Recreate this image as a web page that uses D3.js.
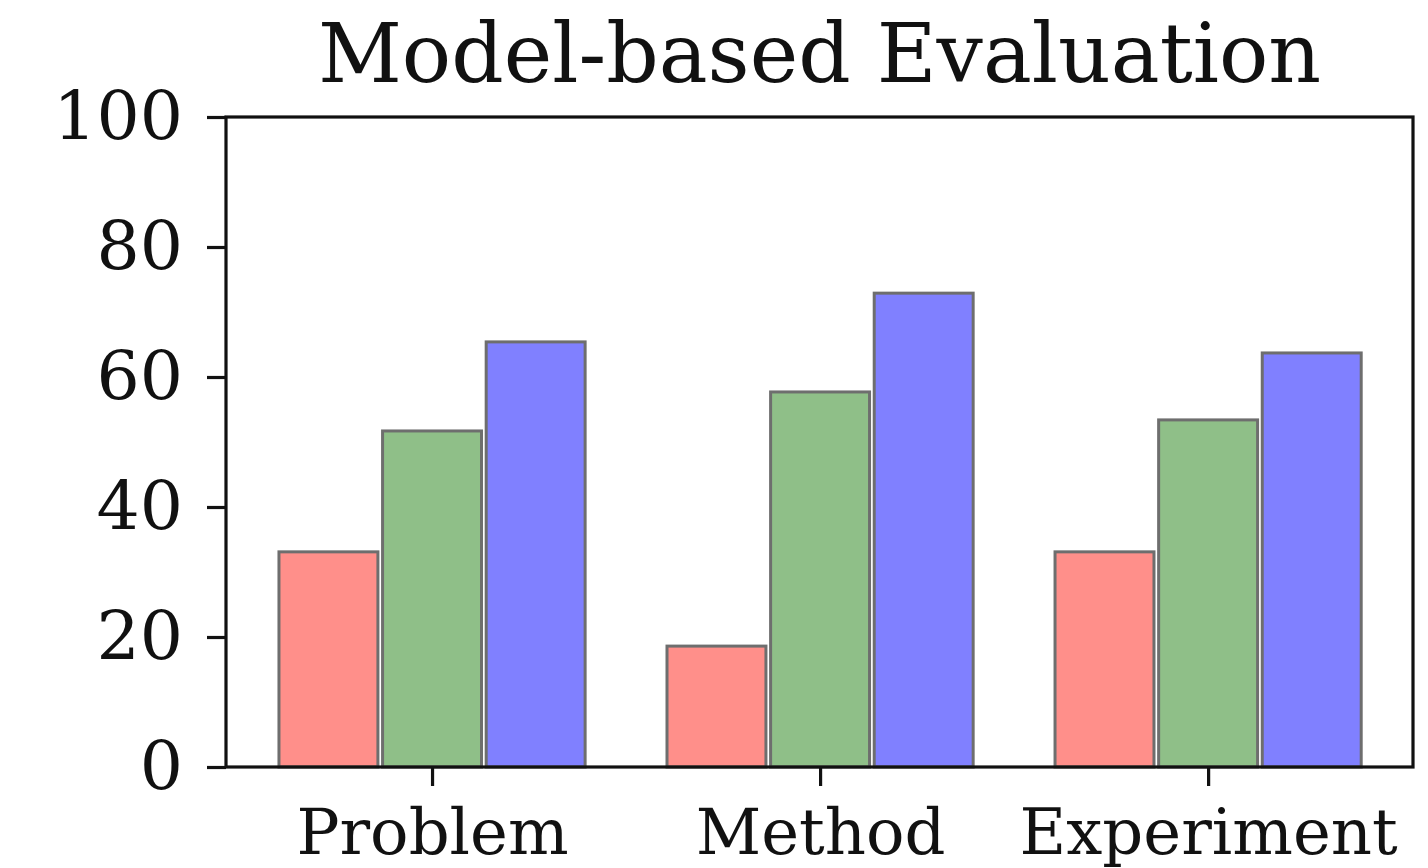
<!DOCTYPE html>
<html>
<head>
<meta charset="utf-8">
<script src="https://cdn.jsdelivr.net/npm/d3@7"></script>
<style>
  body { margin: 0; background: #fff; }
  svg { display: block; font-family: "DejaVu Serif", serif; }
</style>
</head>
<body>
<div id="chart"></div>
<script>
const categories = ["Problem", "Method", "Experiment"];
const seriesRed = [33.1, 18.6, 33.1];
const seriesGreen = [51.7, 57.7, 53.4];
const seriesBlue = [65.4, 72.9, 63.7];
const yTicks = [0, 20, 40, 60, 80, 100];

const W = 1428, H = 868;
const plotLeft = 226, plotRight = 1413, plotTop = 117, plotBottom = 767;

const series = [
    {values: seriesRed, fill: "#ff8f8a"},
    {values: seriesGreen, fill: "#8fbf88"},
    {values: seriesBlue, fill: "#8080ff"}
];

const svg = d3.select("#chart").append("svg")
    .attr("width", W)
    .attr("height", H);

// category index -> pixel
const x = d3.scaleLinear().domain([-0.531, 2.528]).range([plotLeft, plotRight]);
const y = d3.scaleLinear().domain([0, 100]).range([plotBottom, plotTop]);

const barW = 0.255, step = 0.267;

series.forEach(function(s, k) {
    svg.append("g").selectAll("rect")
        .data(s.values)
        .enter().append("rect")
        .attr("x", (d, i) => x(i + (k - 1) * step - barW / 2))
        .attr("width", x(barW) - x(0))
        .attr("y", d => y(d))
        .attr("height", d => y(0) - y(d))
        .attr("fill", s.fill)
        .attr("stroke", "#6e6e6e")
        .attr("stroke-width", 3);
});

// axes
const yAxis = d3.axisLeft(y).tickValues(yTicks).tickSize(19).tickPadding(24);
const gy = svg.append("g").attr("transform", "translate(" + plotLeft + ",0)").call(yAxis);
const xAxis = d3.axisBottom(x).tickValues([0, 1, 2])
    .tickFormat(i => categories[i]).tickSize(19).tickPadding(23);
const gx = svg.append("g").attr("transform", "translate(0," + plotBottom + ")").call(xAxis);

[gx, gy].forEach(g => {
    g.select(".domain").remove();
    g.selectAll("line").attr("stroke", "#111").attr("stroke-width", 3.2);
    g.selectAll("text").attr("font-family", "DejaVu Serif, serif").attr("fill", "#111");
});
gy.selectAll("text").attr("font-size", 68);
gx.selectAll("text").attr("font-size", 64);

// frame
svg.append("rect")
    .attr("x", plotLeft).attr("y", plotTop)
    .attr("width", plotRight - plotLeft).attr("height", plotBottom - plotTop)
    .attr("fill", "none").attr("stroke", "#111").attr("stroke-width", 3.2);

svg.append("text")
    .attr("x", (plotLeft + plotRight) / 2)
    .attr("y", 82)
    .attr("text-anchor", "middle")
    .attr("font-size", 82)
    .attr("fill", "#111")
    .text("Model-based Evaluation");
</script>
</body>
</html>
